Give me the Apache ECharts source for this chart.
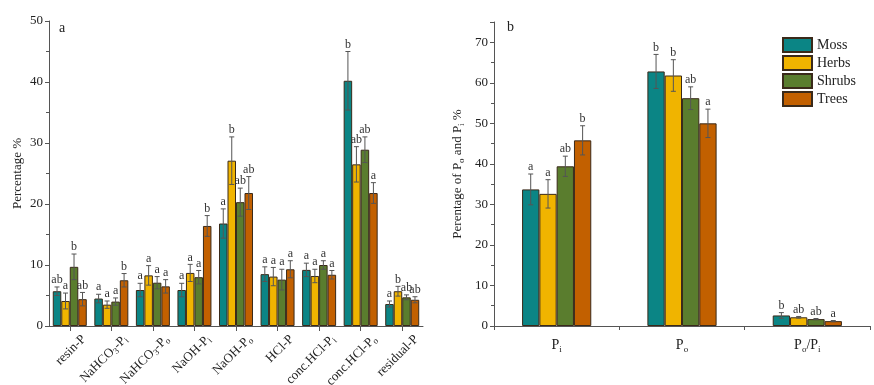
<!DOCTYPE html>
<html><head><meta charset="utf-8">
<script src="https://cdn.jsdelivr.net/npm/echarts@6/dist/echarts.min.js"></script>
<style>html,body{margin:0;padding:0;background:#fff}#c{width:874px;height:385px}</style>
</head><body><div id="c"></div>
<script>
const leftCats = ['resin-P','NaHCO3-Pi','NaHCO3-Po','NaOH-Pi','NaOH-Po','HCl-P','conc.HCl-Pi','conc.HCl-Po','residual-P'];
const leftLabels = ['resin-P','NaHCO{s|3}-P{s|i}','NaHCO{s|3}-P{s|o}','NaOH-P{s|i}','NaOH-P{s|o}','HCl-P','conc.HCl-P{s|i}','conc.HCl-P{s|o}','residual-P'];
const mossL = [5.7,4.5,5.9,5.9,16.8,8.5,9.2,40.2,3.6];
const mossLErr = [0.7,0.7,1.1,1.1,2.4,1.2,1.1,4.8,0.5];
const herbsL = [4.1,3.5,8.3,8.7,27.1,8.1,8.2,26.5,5.7];
const herbsLErr = [1.3,0.6,1.6,1.4,3.9,1.5,1.1,2.9,0.8];
const shrubsL = [9.7,4.0,7.1,8.0,20.3,7.6,10.0,28.9,4.7];
const shrubsLErr = [2.1,0.6,1.0,1.1,2.3,1.7,0.7,2.1,0.4];
const treesL = [4.4,7.5,6.5,16.4,21.8,9.3,8.4,21.8,4.3];
const treesLErr = [1.1,1.1,1.1,1.7,2.7,1.4,0.7,1.7,0.5];
const mossLLet = ['ab','a','a','a','a','a','a','b','a'];
const herbsLLet = ['a','a','a','a','b','a','a','ab','b'];
const shrubsLLet = ['b','a','a','a','ab','a','a','ab','ab'];
const treesLLet = ['ab','b','a','b','ab','a','a','a','ab'];

const rightCats = ['Pi','Po','Po/Pi'];
const rightLabels = ['P{s|i}','P{s|o}','P{s|o}/P{s|i}'];
const mossR = [33.7,62.8,2.6];
const mossRErr = [3.8,4.2,0.7];
const herbsR = [32.6,61.8,2.15];
const herbsRErr = [3.5,3.9,0.2];
const shrubsR = [39.4,56.2,1.7];
const shrubsRErr = [2.5,2.8,0.15];
const treesR = [45.8,50.0,1.2];
const treesRErr = [3.6,3.5,0.15];
const mossRLet = ['a','b','b'];
const herbsRLet = ['a','b','ab'];
const shrubsRLet = ['ab','ab','ab'];
const treesRLet = ['b','a','a'];

const groups = ['Moss','Herbs','Shrubs','Trees'];
const colors = ['#0b8585','#f0b400','#5a7d2e','#c26000'];
const FONT = 'Liberation Serif';
const LBW = 8.5, RBW = 17.3;

const leftSets = [[mossL,mossLErr,mossLLet],[herbsL,herbsLErr,herbsLLet],[shrubsL,shrubsLErr,shrubsLLet],[treesL,treesLErr,treesLLet]];
const rightSets = [[mossR,mossRErr,mossRLet],[herbsR,herbsRErr,herbsRLet],[shrubsR,shrubsRErr,shrubsRLet],[treesR,treesRErr,treesRLet]];

const subRich = {
  n: {fontFamily: FONT, fontSize: 13, lineHeight: 16, color: '#222'},
  s: {fontFamily: FONT, fontSize: 9, lineHeight: 9, verticalAlign: 'bottom', color: '#222'}
};

function barSeries(name, idx, data, ax, bw) {
  return {type: 'bar', name, xAxisIndex: ax, yAxisIndex: ax, data, barWidth: bw, barGap: '0%',
    itemStyle: {color: colors[idx], borderColor: '#3a2a1a', borderWidth: 1}, z: 2};
}
function errSeries(idx, vals, errs, lets, ax, bw) {
  return {type: 'custom', name: 'err' + ax + idx, xAxisIndex: ax, yAxisIndex: ax, z: 5,
    data: vals.map((v, i) => [i, v, errs[i]]),
    renderItem: function (params, api) {
      const i = api.value(0), v = api.value(1), e = api.value(2);
      const c = api.coord([i, v]);
      const hi = api.coord([i, v + e]);
      const lo = api.coord([i, v - e]);
      const x = c[0] + (idx - 1.5) * bw;
      const cw = 2.5;
      const st = {stroke: '#555', lineWidth: 1};
      return {type: 'group', children: [
        {type: 'line', shape: {x1: x, y1: lo[1], x2: x, y2: hi[1]}, style: st},
        {type: 'line', shape: {x1: x - cw, y1: hi[1], x2: x + cw, y2: hi[1]}, style: st},
        {type: 'line', shape: {x1: x - cw, y1: lo[1], x2: x + cw, y2: lo[1]}, style: st},
        {type: 'text', x: x, y: hi[1] - 1, style: {text: lets[params.dataIndex], fontFamily: FONT, fontSize: 12, fill: '#333', align: 'center', verticalAlign: 'bottom'}}
      ]};
    }
  };
}

const series = [];
groups.forEach((g, k) => series.push(barSeries(g, k, leftSets[k][0], 0, LBW)));
groups.forEach((g, k) => series.push(barSeries(g, k, rightSets[k][0], 1, RBW)));
groups.forEach((g, k) => series.push(errSeries(k, leftSets[k][0], leftSets[k][1], leftSets[k][2], 0, LBW)));
groups.forEach((g, k) => series.push(errSeries(k, rightSets[k][0], rightSets[k][1], rightSets[k][2], 1, RBW)));

const axisLine = {show: true, lineStyle: {color: '#555', width: 1}};
const chart = echarts.init(document.getElementById('c'));
chart.setOption({
  animation: false,
  backgroundColor: '#fff',
  textStyle: {fontFamily: FONT},
  grid: [
    {left: 49, right: 451, top: 21, bottom: 59, containLabel: false, outerBoundsMode: 'none'},
    {left: 494, right: 4, top: 22, bottom: 59, containLabel: false, outerBoundsMode: 'none'}
  ],
  legend: {
    data: groups, orient: 'vertical', left: 782, top: 37, itemWidth: 29, itemHeight: 14, itemGap: 2,
    padding: 0, icon: 'rect',
    textStyle: {fontFamily: FONT, fontSize: 14, lineHeight: 14, color: '#222'}
  },
  xAxis: [
    {type: 'category', gridIndex: 0, data: leftCats, axisLine,
      axisTick: {show: true, alignWithLabel: true, length: 5, lineStyle: {color: '#555'}},
      axisLabel: {rotate: 45, margin: -3, interval: 0, rich: subRich, align: 'right', verticalAlign: 'top',
        padding: [12, 0, 0, 0],
        formatter: (v, i) => '{n|' + leftLabels[i].replace(/\{s\|(\w)\}/g, '}{s|$1}{n|') + '}'}},
    {type: 'category', gridIndex: 1, data: rightCats, axisLine,
      axisTick: {show: true, length: 4, lineStyle: {color: '#555'}},
      axisLabel: {margin: 10, interval: 0, rich: {
        n: {fontFamily: FONT, fontSize: 14, lineHeight: 18, color: '#222'},
        s: {fontFamily: FONT, fontSize: 9, lineHeight: 10, verticalAlign: 'bottom', color: '#222'}},
        formatter: (v, i) => '{n|' + rightLabels[i].replace(/\{s\|(\w)\}/g, '}{s|$1}{n|') + '}'}}
  ],
  yAxis: [
    {type: 'value', gridIndex: 0, min: 0, max: 50, interval: 10, axisLine,
      axisTick: {show: true, length: 4, lineStyle: {color: '#555'}},
      minorTick: {show: true, splitNumber: 2, length: 3, lineStyle: {color: '#555'}},
      splitLine: {show: false},
      axisLabel: {fontFamily: FONT, fontSize: 13, color: '#222', margin: 6},
      name: '{n|Percentage %}', nameLocation: 'middle', nameGap: 23,
      nameTextStyle: {rich: subRich}},
    {type: 'value', gridIndex: 1, min: 0, max: 75, interval: 10, axisLine,
      axisTick: {show: true, length: 4, lineStyle: {color: '#555'}},
      minorTick: {show: true, splitNumber: 2, length: 3, lineStyle: {color: '#555'}},
      splitLine: {show: false},
      axisLabel: {fontFamily: FONT, fontSize: 13, color: '#222', margin: 6,
        formatter: v => (v % 10 === 0 ? String(v) : '')},
      name: '{n|Perentage of P}{s|o}{n| and P}{s|i}{n| %}', nameLocation: 'middle', nameGap: 28,
      nameTextStyle: {rich: subRich}}
  ],
  graphic: [
    {type: 'text', left: 59, top: 21, style: {text: 'a', fontFamily: FONT, fontSize: 14, fill: '#222'}},
    {type: 'text', left: 507, top: 20, style: {text: 'b', fontFamily: FONT, fontSize: 14, fill: '#222'}}
  ],
  series
});
</script></body></html>
